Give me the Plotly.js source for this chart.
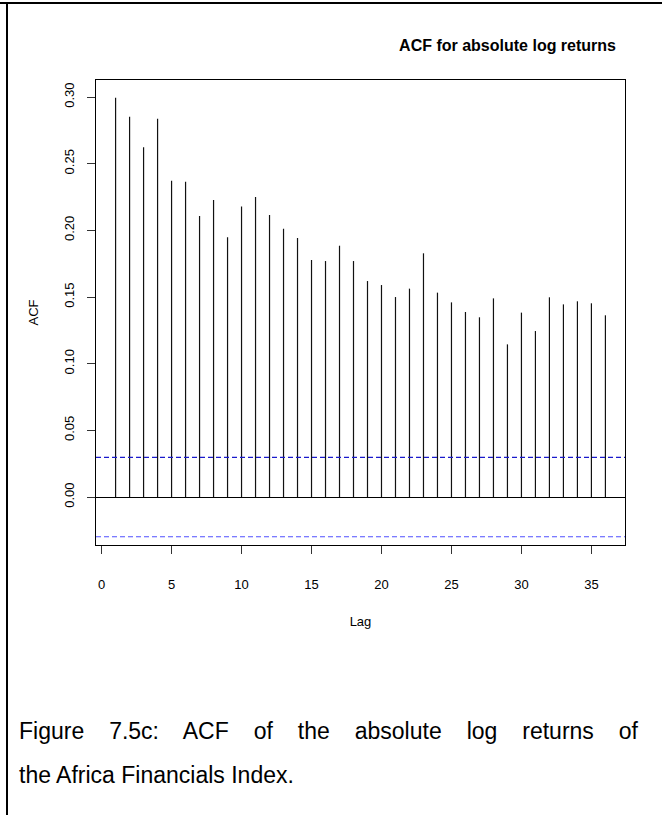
<!DOCTYPE html>
<html>
<head>
<meta charset="utf-8">
<script src="https://cdn.plot.ly/plotly-3.0.1.min.js"></script>
<style>
  html, body { margin: 0; padding: 0; background: #fff; }
  #wrap { position: relative; width: 662px; height: 815px; overflow: hidden; }
  #chart { position: absolute; left: 0; top: 0; width: 662px; height: 815px; }
  .frame-top { position: absolute; left: 0; top: 2px; width: 662px; height: 2px; background: #000; }
  .frame-left { position: absolute; left: 6px; top: 2px; width: 2px; height: 813px; background: #000; }
  .caption { position: absolute; left: 19px; width: 619px; font-family: "Liberation Sans", Arial, sans-serif;
             font-size: 23px; color: #000; line-height: 26px; white-space: nowrap; }
  .justify { text-align: justify; text-align-last: justify; white-space: normal; }
</style>
</head>
<body>
<div id="wrap">
  <div id="chart"></div>
  <div class="frame-top"></div>
  <div class="frame-left"></div>
  <div class="caption justify" style="top:718px;">Figure 7.5c: ACF of the absolute log returns of</div>
  <div class="caption" style="top:762px;">the Africa Financials Index.</div>
</div>
<script>
// ---- data ----
var lags = [1,2,3,4,5,6,7,8,9,10,11,12,13,14,15,16,17,18,19,20,21,22,23,24,25,26,27,28,29,30,31,32,33,34,35,36];
var acfValues = [0.2995,0.2853,0.2623,0.2838,0.2373,0.2365,0.2108,0.2228,0.1948,0.2180,
                 0.2250,0.2115,0.2013,0.1943,0.1778,0.1770,0.1885,0.1770,0.1620,0.1590,
                 0.1500,0.1563,0.1828,0.1533,0.1460,0.1388,0.1348,0.1490,0.1145,0.1383,
                 0.1245,0.1498,0.1445,0.1468,0.1453,0.1363];
var ciBound = 0.0298;
var xTickVals = [0, 5, 10, 15, 20, 25, 30, 35];
var xTickText = ["0", "5", "10", "15", "20", "25", "30", "35"];
var yTickVals = [0, 0.05, 0.10, 0.15, 0.20, 0.25, 0.30];
var yTickText = ["0.00", "0.05", "0.10", "0.15", "0.20", "0.25", "0.30"];
var chartTitle = "ACF for absolute log returns";
var xTitle = "Lag";
var yTitle = "ACF";

// build vertical spikes from the data
var sx = [], sy = [];
for (var i = 0; i < lags.length; i++) {
  sx.push(lags[i], lags[i], null);
  sy.push(0, acfValues[i], null);
}

var font = "Liberation Sans, Arial, sans-serif";

var traces = [
  { x: sx, y: sy, type: "scatter", mode: "lines",
    line: { color: "#111", width: 1.2 }, hoverinfo: "skip", showlegend: false },
  { x: [-0.4, 37.4], y: [ciBound, ciBound], type: "scatter", mode: "lines",
    line: { color: "#1a1acc", width: 1.2, dash: "5px,3px" }, hoverinfo: "skip", showlegend: false },
  { x: [-0.4, 37.4], y: [-ciBound, -ciBound], type: "scatter", mode: "lines",
    line: { color: "#5050ff", width: 1.2, dash: "5px,3px" }, hoverinfo: "skip", showlegend: false }
];

var layout = {
  width: 662, height: 815,
  margin: { l: 96, r: 37, t: 80, b: 270, pad: 0 },
  paper_bgcolor: "rgba(0,0,0,0)", plot_bgcolor: "#fff",
  font: { family: font, size: 13, color: "#000" },
  showlegend: false,
  title: { text: "<b>" + chartTitle + "</b>", font: { family: font, size: 16, color: "#000" },
           x: 616 / 662, xref: "container", xanchor: "right",
           y: 1 - 45 / 815, yref: "container", yanchor: "middle" },
  xaxis: {
    range: [-0.4, 37.4], tickmode: "array", tickvals: xTickVals, ticktext: xTickText,
    ticks: "outside", ticklen: 8, tickwidth: 1, tickcolor: "#333",
    showline: true, mirror: true, linecolor: "#000", linewidth: 1,
    showgrid: false, zeroline: false, ticklabelstandoff: 19,
    tickfont: { family: font, size: 13, color: "#000" },
    title: { text: xTitle, font: { family: font, size: 13, color: "#000" }, standoff: 26 }
  },
  yaxis: {
    range: [-0.036, 0.3128], tickmode: "array", tickvals: yTickVals, ticktext: yTickText,
    tickangle: -90,
    ticks: "outside", ticklen: 8, tickwidth: 1, tickcolor: "#333",
    showline: true, mirror: true, linecolor: "#000", linewidth: 1,
    showgrid: false, zeroline: true, zerolinecolor: "#000", zerolinewidth: 1,
    ticklabelstandoff: 8,
    tickfont: { family: font, size: 13, color: "#000" },
    title: { text: yTitle, font: { family: font, size: 13, color: "#000" }, standoff: 20 }
  }
};

Plotly.newPlot("chart", traces, layout, { displayModeBar: false, staticPlot: true });
</script>
</body>
</html>
